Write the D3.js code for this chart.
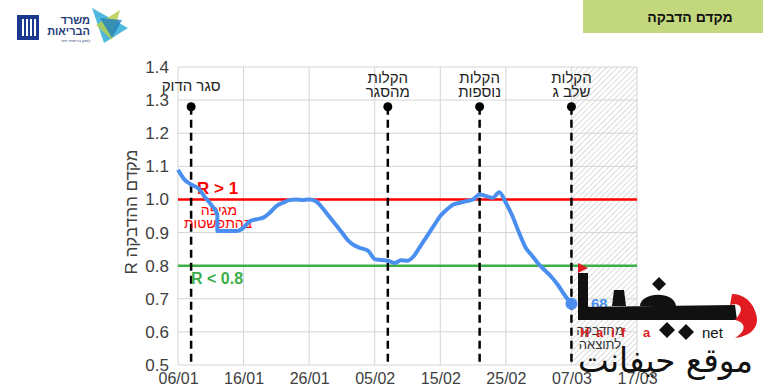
<!DOCTYPE html>
<html>
<head>
<meta charset="utf-8">
<script src="https://cdn.jsdelivr.net/npm/d3@7"></script>
<style>
  body { margin: 0; background: #fff; }
  svg { display: block; font-family: "Liberation Sans", "DejaVu Sans", Arial, sans-serif; }
</style>
</head>
<body>
<div id="chart"></div>
<script>
// days after 06/01 and R values
var day_offsets = [0, 1, 2, 3, 4, 5, 6, 6.9, 8, 9, 10, 11, 12, 13, 14, 15, 16, 17, 18, 19, 20,
    21, 22, 23, 24, 25, 26, 27, 28, 29, 30, 31, 32, 33, 34, 35, 36, 37, 38, 39, 40,
    41, 42, 43, 44, 45, 46, 47, 48, 49, 50, 51, 52, 53, 54, 55, 56, 57, 58, 59, 60];
var r_values = [1.09, 1.06, 1.045, 1.035, 1.01, 0.985, 0.955, 0.905, 0.905, 0.905, 0.915,
    0.935, 0.94, 0.945, 0.96, 0.98, 0.99, 0.998, 1.0, 0.998, 1.0,
    0.995, 0.975, 0.95, 0.925, 0.9, 0.875, 0.86, 0.852, 0.845, 0.82,
    0.817, 0.815, 0.808, 0.816, 0.815, 0.83, 0.86, 0.89, 0.92, 0.95,
    0.97, 0.985, 0.99, 0.995, 1.0, 1.015, 1.01, 1.005, 1.022, 0.99,
    0.95, 0.9, 0.855, 0.83, 0.805, 0.785, 0.765, 0.74, 0.71, 0.685];

var x_ticks = ["06/01", "16/01", "26/01", "05/02", "15/02", "25/02", "07/03", "17/03"];
var y_ticks = [0.5, 0.6, 0.7, 0.8, 0.9, 1.0, 1.1, 1.2, 1.3, 1.4];

// events: day offset and label lines
var event_days   = [2, 32, 46, 60];
var event_labels = [["סגר הדוק"], ["הקלות", "מהסגר"], ["הקלות", "נוספות"], ["הקלות", "שלב ג"]];

var threshold_values = [1.0, 0.8];
var threshold_colors = ["#ff0000", "#3cae4a"];

var forecast_start = 60, forecast_end = 70;

var start_date = new Date(2021, 0, 6);
function day_to_date(d) { return d3.timeDay.offset(start_date, d); }

var width = 768, height = 390;
var svg = d3.select("#chart").append("svg")
    .attr("width", width)
    .attr("height", height);

var x_scale = d3.scaleTime()
    .domain([start_date, day_to_date(70)])
    .range([178, 637]);
var y_scale = d3.scaleLinear()
    .domain([0.5, 1.4])
    .range([365, 67]);

// header
svg.append("rect")
    .attr("x", 583).attr("y", 0).attr("width", 180).attr("height", 33)
    .attr("fill", "#c3d77c");
svg.append("text")
    .attr("x", 690).attr("y", 22)
    .attr("text-anchor", "middle")
    .attr("font-size", 14).attr("font-weight", "bold")
    .attr("fill", "#111")
    .text("מקדם הדבקה");

// logos (rough)
var logo = svg.append("g");
logo.append("rect").attr("x", 17).attr("y", 15).attr("width", 22).attr("height", 25).attr("fill", "#1b3a8f");
for (var i = 0; i < 4; i++) {
    logo.append("rect").attr("x", 22 + i * 4).attr("y", 19).attr("width", 2).attr("height", 17).attr("fill", "#fff");
}
logo.append("text").attr("x", 90).attr("y", 24).attr("text-anchor", "end")
    .attr("font-size", 11).attr("font-weight", "bold").attr("fill", "#1f3c7a").text("משרד");
logo.append("text").attr("x", 90).attr("y", 35).attr("text-anchor", "end")
    .attr("font-size", 11).attr("font-weight", "bold").attr("fill", "#1f3c7a").text("הבריאות");
logo.append("text").attr("x", 90).attr("y", 42).attr("text-anchor", "end")
    .attr("font-size", 4).attr("fill", "#1f3c7a").text("למען בריאות יותר");
logo.append("polygon").attr("points", "92,8 128,28 104,43").attr("fill", "#3db0d8").attr("opacity", 0.9);
logo.append("polygon").attr("points", "120,10 112,40 96,25").attr("fill", "#b5cf4f").attr("opacity", 0.85);
logo.append("polygon").attr("points", "100,18 122,20 112,38").attr("fill", "#1d7fc2").attr("opacity", 0.8);

// hatch pattern
var defs = svg.append("defs");
var pattern = defs.append("pattern")
    .attr("id", "hatch")
    .attr("patternUnits", "userSpaceOnUse")
    .attr("width", 4).attr("height", 4)
    .attr("patternTransform", "rotate(45)");
pattern.append("line")
    .attr("x1", 0).attr("y1", 0).attr("x2", 0).attr("y2", 4)
    .attr("stroke", "#c8c8c8").attr("stroke-width", 1.3);

svg.append("rect")
    .attr("x", x_scale(day_to_date(forecast_start)))
    .attr("y", y_scale(1.4))
    .attr("width", x_scale(day_to_date(forecast_end)) - x_scale(day_to_date(forecast_start)))
    .attr("height", y_scale(0.5) - y_scale(1.4))
    .attr("fill", "url(#hatch)");

// grid
var tick_dates = x_ticks.map(function(t, i) { return day_to_date(i * 10); });
svg.append("g").selectAll("line").data(tick_dates).enter().append("line")
    .attr("x1", function(d) { return x_scale(d); })
    .attr("x2", function(d) { return x_scale(d); })
    .attr("y1", y_scale(1.4)).attr("y2", y_scale(0.5))
    .attr("stroke", "#d4d4d4").attr("stroke-width", 1);
svg.append("g").selectAll("line").data(y_ticks).enter().append("line")
    .attr("x1", x_scale.range()[0]).attr("x2", x_scale.range()[1])
    .attr("y1", function(d) { return y_scale(d); })
    .attr("y2", function(d) { return y_scale(d); })
    .attr("stroke", "#d4d4d4").attr("stroke-width", 1);

// axes labels
var y_axis = d3.axisLeft(y_scale)
    .tickValues(y_ticks)
    .tickFormat(d3.format(".1f"))
    .tickSize(0).tickPadding(9);
var gy = svg.append("g").attr("transform", "translate(178,0)").call(y_axis);
gy.select(".domain").remove();
gy.selectAll("text").attr("font-size", 17).attr("fill", "#404040")
    .attr("font-family", "Liberation Sans, Arial, sans-serif");

var x_axis = d3.axisBottom(x_scale)
    .tickValues(tick_dates)
    .tickFormat(function(d, i) { return x_ticks[i]; })
    .tickSize(0).tickPadding(8);
var gx = svg.append("g").attr("transform", "translate(0,365)").call(x_axis);
gx.select(".domain").remove();
gx.selectAll("text").attr("font-size", 16).attr("fill", "#404040")
    .attr("font-family", "Liberation Sans, Arial, sans-serif");

svg.append("text")
    .attr("transform", "translate(137,212) rotate(-90)")
    .attr("text-anchor", "middle")
    .attr("direction", "rtl")
    .attr("font-size", 17).attr("fill", "#404040")
    .text("מקדם ההדבקה R");

// threshold lines
svg.append("g").selectAll("line").data(threshold_values).enter().append("line")
    .attr("x1", x_scale.range()[0]).attr("x2", x_scale.range()[1])
    .attr("y1", function(d) { return y_scale(d); })
    .attr("y2", function(d) { return y_scale(d); })
    .attr("stroke", function(d, i) { return threshold_colors[i]; })
    .attr("stroke-width", 2.5);

// event lines
var ev = svg.append("g").selectAll("g").data(event_days).enter().append("g");
ev.append("line")
    .attr("x1", function(d) { return x_scale(day_to_date(d)); })
    .attr("x2", function(d) { return x_scale(day_to_date(d)); })
    .attr("y1", y_scale(1.28)).attr("y2", y_scale(0.5))
    .attr("stroke", "#000").attr("stroke-width", 2.5)
    .attr("stroke-dasharray", "8,5");
ev.append("circle")
    .attr("cx", function(d) { return x_scale(day_to_date(d)); })
    .attr("cy", y_scale(1.28)).attr("r", 4.5)
    .attr("fill", "#000");
ev.each(function(d, i) {
    var lines = event_labels[i];
    var g = d3.select(this);
    lines.forEach(function(s, j) {
        var y0 = lines.length == 1 ? 91 : 83 + j * 14;
        g.append("text")
            .attr("x", x_scale(day_to_date(d)))
            .attr("y", y0)
            .attr("text-anchor", "middle")
            .attr("font-size", 15).attr("fill", "#222")
            .text(s);
    });
});

// annotations
svg.append("text").attr("x", 197).attr("y", 194)
    .attr("font-size", 17).attr("font-weight", "bold").attr("fill", "#ff0000").text("R > 1");
svg.append("text").attr("x", 219).attr("y", 215).attr("text-anchor", "middle")
    .attr("font-size", 14).attr("fill", "#ff0000").text("מגיפה");
svg.append("text").attr("x", 218).attr("y", 228).attr("text-anchor", "middle")
    .attr("font-size", 14).attr("fill", "#ff0000").text("בהתפשטות");
svg.append("text").attr("x", 191).attr("y", 284)
    .attr("font-size", 16).attr("font-weight", "bold").attr("fill", "#3cae4a").text("R < 0.8");

// R curve
var data = day_offsets.map(function(d, i) { return {date: day_to_date(d), r: r_values[i]}; });
var line = d3.line()
    .x(function(d) { return x_scale(d.date); })
    .y(function(d) { return y_scale(d.r); })
    .curve(d3.curveMonotoneX);
svg.append("path")
    .attr("d", line(data))
    .attr("fill", "none")
    .attr("stroke", "#4a8ff0")
    .attr("stroke-width", 4)
    .attr("stroke-linejoin", "round");

var last = data[data.length - 1];
svg.append("circle")
    .attr("cx", x_scale(last.date)).attr("cy", y_scale(last.r)).attr("r", 6)
    .attr("fill", "#4a8ff0");
svg.append("text")
    .attr("x", x_scale(last.date) + 7).attr("y", y_scale(last.r) + 5)
    .attr("font-size", 15).attr("font-weight", "bold").attr("fill", "#4a8ff0").text("0.68");

svg.append("text").attr("x", 600).attr("y", 335).attr("text-anchor", "middle")
    .attr("font-size", 13).attr("fill", "#333").text("מחדבקה");
svg.append("text").attr("x", 600).attr("y", 349).attr("text-anchor", "middle")
    .attr("font-size", 13).attr("fill", "#333").text("לתוצאה");

// watermark (rough shapes of the haifa.net logo)
var wm = svg.append("g");
wm.append("polygon").attr("points", "578,263 588,268 578,273").attr("fill", "#e01b22");
wm.append("rect").attr("x", 578).attr("y", 273).attr("width", 10).attr("height", 47).attr("fill", "#111");
wm.append("path").attr("d", "M578,307 L735,305 L737,320 L578,320 Z").attr("fill", "#111");
wm.append("path").attr("d", "M612,306 L614,290 L624,290 L626,306 Z").attr("fill", "#111");
wm.append("path").attr("d", "M640,306 C640,292 674,290 676,306 Z").attr("fill", "#111");
var diamonds = [[659, 284, 7], [667, 330, 8], [686, 332, 8]];
wm.selectAll(".dm").data(diamonds).enter().append("polygon")
    .attr("points", function(d) {
        return [[d[0], d[1] - d[2]], [d[0] + d[2], d[1]], [d[0], d[1] + d[2]], [d[0] - d[2], d[1]]].join(" ");
    })
    .attr("fill", "#111");
wm.append("path")
    .attr("d", "M735,320 C745,322 748,330 735,338 C752,336 760,326 756,314 C753,302 744,294 732,294 L730,305 C740,302 746,308 735,320 Z")
    .attr("fill", "#e01b22");
wm.append("text").attr("x", 702).attr("y", 338)
    .attr("font-size", 15).attr("fill", "#111").text("net");
wm.append("text").attr("x", 753).attr("y", 372).attr("text-anchor", "end")
    .attr("font-size", 34).attr("fill", "#111")
    .attr("textLength", 175).attr("lengthAdjust", "spacingAndGlyphs")
    .attr("font-family", "DejaVu Sans").text("موقع حيفانت");
var haifa = ["H", "a", "i", "f", "a"];
var haifa_x = [580, 596, 611, 621, 643];
wm.selectAll(".hl").data(haifa).enter().append("text")
    .attr("x", function(d, i) { return haifa_x[i]; }).attr("y", 337)
    .attr("font-size", 13).attr("font-weight", "bold").attr("fill", "#e01b22")
    .text(function(d) { return d; });
</script>
</body>
</html>
